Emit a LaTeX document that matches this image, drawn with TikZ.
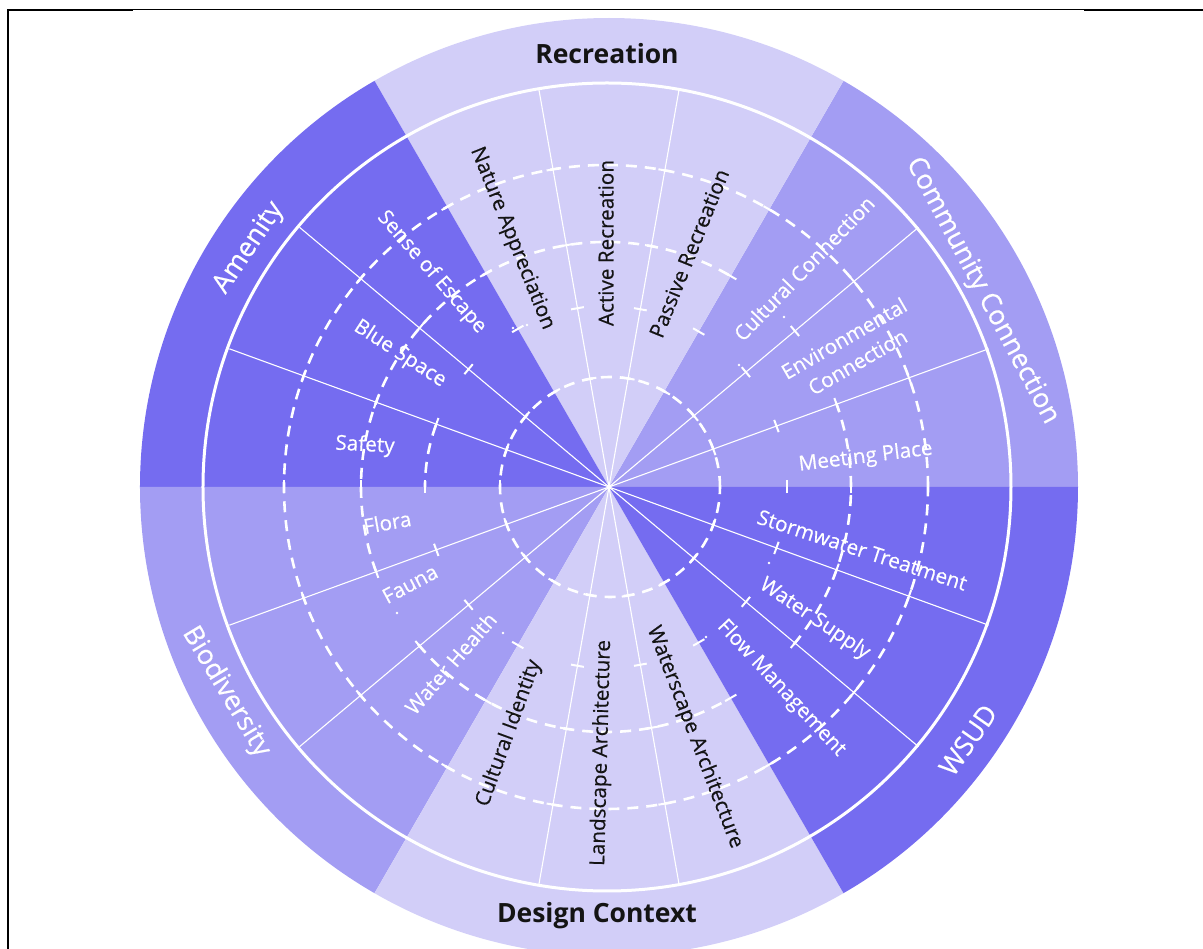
\documentclass[tikz,border=0pt]{standalone}
\usepackage{fontspec}
\setmainfont{Open Sans}
\newfontfamily\labfont{Open Sans}[FakeBold=0.4]
\definecolor{cdark}{HTML}{756CF0}
\definecolor{cmid}{HTML}{A39DF3}
\definecolor{clight}{HTML}{D2CEF8}
\definecolor{ctext}{HTML}{141414}
\begin{document}
\begin{tikzpicture}[x=1pt,y=1pt,
  sub/.style={font=\labfont\fontsize{20.7}{27}\selectfont, inner sep=0pt},
  subw/.style={sub, text=white},
  subk/.style={sub, text=ctext},
  outw/.style={font=\labfont\fontsize{27}{30}\selectfont, text=white, inner sep=0pt},
  outk/.style={font=\fontsize{26.5}{30}\selectfont\bfseries, text=ctext, inner sep=0pt},
  ringline/.style={white, line width=2.6pt, dash pattern=on 11pt off 8pt},
  tickline/.style={white, line width=2pt},
  spoke/.style={white, line width=1.1pt},
  frameline/.style={black, line width=#1},
]
\useasboundingbox (-609,-462) rectangle (594,487);
\clip (-609,-462) rectangle (594,487);
% frame
\draw[frameline=2pt] (-601,476.5) -- (-476,476.5);
\draw[frameline=1pt] (-476,477.5) -- (476,477.5);
\draw[frameline=2pt] (475,476.5) -- (594,476.5);
\draw[frameline=2pt] (-601,477.5) -- (-601,-462);
% sectors
\foreach \a/\c in {0/cmid,60/clight,120/cdark,180/cmid,240/clight,300/cdark}
  \fill[\c] (0,0) -- (\a:469) arc[start angle=\a, delta angle=60, radius=469] -- cycle;
% inner white circle
\draw[white, line width=3pt] (-2,0) circle[radius=404];
% spokes
\foreach \a in {20,40,80,100,140,160,200,220,260,280,320,340}
  \draw[spoke] (0,0) -- (\a:404);
% dashed rings
\draw[ringline] (1,0) circle[radius=110];
\draw[ringline] (-3,0) circle[radius=322];
\begin{scope}[shift={(-3,0)}]
  \foreach \s/\e in {0/20,60/200,220/300,320/360}
    \draw[ringline] (\s:245) arc[start angle=\s, end angle=\e, radius=245];
  \draw[ringline] (160:181) arc[start angle=160, end angle=180, radius=181];
\end{scope}
% ticks on spokes
\foreach \a in {0,20,...,340}{
  \foreach \R/\dx in {110/1,181/-3,245/-3,322/-3}{
    \pgfmathsetmacro\t{\R+\dx*cos(\a)}
    \draw[tickline, rotate=\a] (\t,-6.5) -- (\t,6.5);
  }
}
% isolated dots
\foreach \p in {(-96,159),(-82,162),(130,122),(175,170),(160,-76),(97,-150),(-212,-126),(-106,-146)}
  \fill[white] \p circle[radius=1.4];
% outer labels
\node[outk] (recreation) at (-2,433.5) {Recreation};
\node[outk] (design) at (-12,-429) {Design Context};
\node[outw, rotate=56] (amenity) at (-360,239) {Amenity};
\node[outw, rotate=-62] (community) at (373,196) {Community Connection};
\node[outw, rotate=-59] (biodiv) at (-383,-205) {Biodiversity};
\node[outw, rotate=55] (wsud) at (359,-253) {WSUD};
% sub labels
\node[subw, rotate=-49] (escape) at (-177.3,214.7) {Sense of Escape};
\node[subw, rotate=-33] (blue) at (-209,133) {Blue Space};
\node[subw, rotate=-3] (safety) at (-244,41.3) {Safety};
\node[subk, rotate=-68] (nature) at (-97,248.5) {Nature Appreciation};
\node[subk, rotate=90] (active) at (-3,244) {Active Recreation};
\node[subk, rotate=68] (passive) at (80,233.7) {Passive Recreation};
\node[subw, rotate=46] (cultconn) at (195,218.7) {Cultural Connection};
\node[subw, rotate=30, align=center] (envconn) at (241.7,137) {Environmental\\Connection};
\node[subw, rotate=7] (meeting) at (256.7,29.7) {Meeting Place};
\node[subw, rotate=-18] (storm) at (253.3,-63) {Stormwater Treatment};
\node[subw, rotate=-34] (supply) at (205.7,-132) {Water Supply};
\node[subw, rotate=-47] (flow) at (172.3,-201.3) {Flow Management};
\node[subk, rotate=-69] (waterscape) at (85.7,-250.3) {Waterscape Architecture};
\node[subk, rotate=88.5] (landscape) at (-7.3,-266) {Landscape Architecture};
\node[subk, rotate=70] (cultid) at (-100,-246.3) {Cultural Identity};
\node[subw, rotate=10] (flora) at (-221.7,-35.3) {Flora};
\node[subw, rotate=28] (fauna) at (-199,-97) {Fauna};
\node[subw, rotate=49] (health) at (-158.3,-176.3) {Water Health};
\end{tikzpicture}
\end{document}
